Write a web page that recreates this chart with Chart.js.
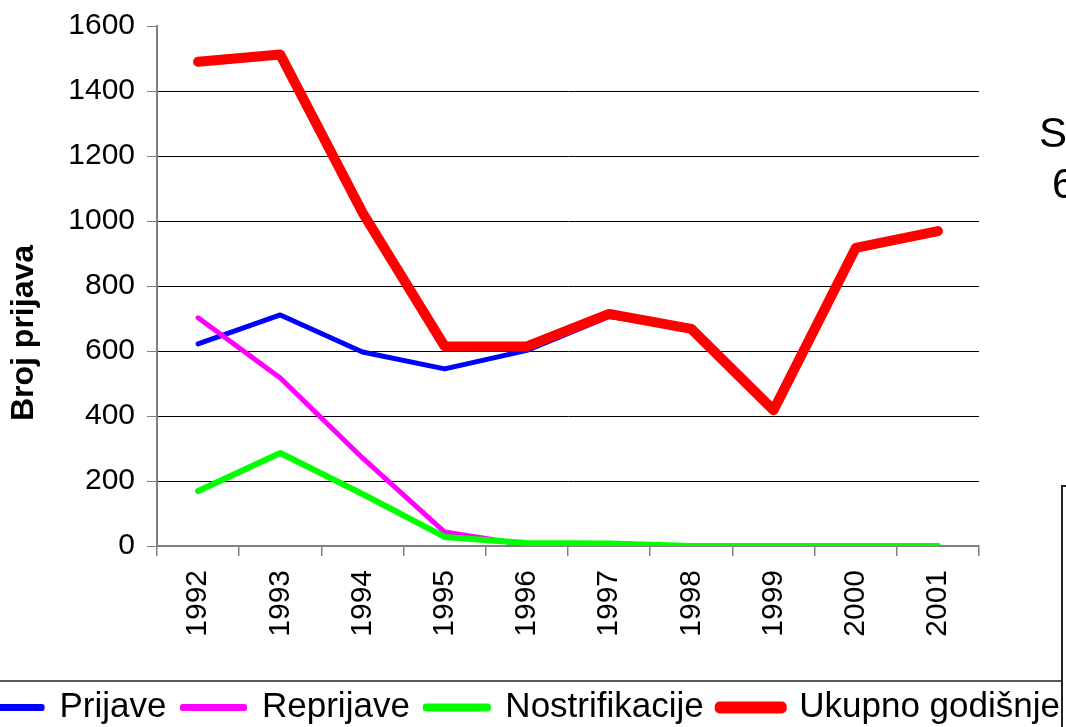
<!DOCTYPE html>
<html>
<head>
<meta charset="utf-8">
<script src="https://cdn.jsdelivr.net/npm/chart.js@4/dist/chart.umd.min.js"></script>
<style>
  html, body { margin: 0; padding: 0; background: #fff; overflow: hidden; width: 1066px; height: 727px; }
  #wrap { position: absolute; left: -100px; top: 0; width: 1240px; height: 735px; }
</style>
</head>
<body>
<div id="wrap"><canvas id="c" width="1240" height="735"></canvas></div>
<script>
const years = ['1992', '1993', '1994', '1995', '1996', '1997', '1998', '1999', '2000', '2001'];
const prijave = [622, 711, 597, 545, 602, 706, 668, 418, 917, 969];
const reprijave = [702, 517, 271, 43, 3, 0, 0, 0, 0, 0];
const nostrifikacije = [169, 286, 160, 28, 9, 8, 0, 0, 0, 0];
const ukupno = [1490, 1512, 1026, 614, 614, 714, 668, 418, 917, 969];
const seriesNames = ['Prijave', 'Reprijave', 'Nostrifikacije', 'Ukupno godišnje'];
const yTitle = 'Broj prijava';
const sideTexts = ['S', '6'];

const FONT = '"Liberation Sans", Arial, sans-serif';
const OFF = 100; // canvas x offset relative to the page

const overlay = {
  id: 'overlay',
  afterDraw(chart) {
    const ctx = chart.ctx;
    ctx.save();
    ctx.fillStyle = '#000';
    ctx.font = 'bold 32px ' + FONT;
    ctx.textAlign = 'center';
    ctx.textBaseline = 'middle';
    ctx.translate(OFF + 24, 333);
    ctx.rotate(-Math.PI / 2);
    ctx.fillText(yTitle, 0, 0);
    ctx.restore();

    ctx.save();
    ctx.strokeStyle = '#222';
    ctx.lineWidth = 1.5;
    ctx.beginPath();
    ctx.moveTo(OFF + 0, 681);
    ctx.lineTo(OFF + 1062, 681);
    ctx.stroke();
    ctx.fillStyle = '#fff';
    ctx.fillRect(OFF + 1062, 486, 200, 300);
    ctx.strokeStyle = '#222';
    ctx.lineWidth = 2;
    ctx.beginPath();
    ctx.moveTo(OFF + 1062, 760);
    ctx.lineTo(OFF + 1062, 486);
    ctx.lineTo(OFF + 1080, 486);
    ctx.stroke();
    ctx.fillStyle = '#000';
    ctx.font = '42px ' + FONT;
    ctx.textAlign = 'left';
    ctx.textBaseline = 'alphabetic';
    ctx.fillText(sideTexts[0], OFF + 1039, 147);
    ctx.fillText(sideTexts[1], OFF + 1052, 198);
    ctx.restore();
  }
};

const mk = (label, data, color, width, order) => ({
  label, data,
  borderColor: color, backgroundColor: color,
  borderWidth: width, pointRadius: 0, pointHoverRadius: 0,
  tension: 0, fill: false,
  borderJoinStyle: 'round', borderCapStyle: 'round',
  order
});

new Chart(document.getElementById('c'), {
  type: 'line',
  data: {
    labels: years,
    datasets: [
      mk(seriesNames[0], prijave, '#0000ff', 5, 4),
      mk(seriesNames[1], reprijave, '#ff00ff', 5, 3),
      mk(seriesNames[2], nostrifikacije, '#00ff00', 6, 2),
      mk(seriesNames[3], ukupno, '#ff0000', 10, 1)
    ]
  },
  options: {
    responsive: false,
    animation: false,
    devicePixelRatio: 1,
    layout: { padding: { left: 0, right: 0, top: 26, bottom: 0 } },
    plugins: {
      tooltip: { enabled: false },
      legend: {
        position: 'bottom',
        labels: {
          sort: (a, b) => a.datasetIndex - b.datasetIndex,
          font: { size: 35, family: FONT },
          color: '#000',
          boxWidth: 62,
          boxHeight: 2,
          padding: 16
        }
      }
    },
    scales: {
      x: {
        offset: true,
        grid: { offset: true, drawOnChartArea: false, drawTicks: true, tickLength: 10, tickColor: '#808080', lineWidth: 1.5 },
        border: { color: '#808080', width: 2 },
        ticks: { minRotation: 90, maxRotation: 90, padding: 14, color: '#000', font: { size: 30, family: FONT } },
        afterFit: s => { s.height = 128; s.paddingLeft = 0; s.paddingRight = 0; }
      },
      y: {
        min: 0, max: 1600,
        ticks: { stepSize: 200, padding: 12, color: '#000', font: { size: 30, family: FONT }, callback: v => String(v) },
        grid: {
          color: c => (c.tick && c.tick.value === 1600) ? 'rgba(0,0,0,0)' : '#000',
          lineWidth: 1,
          tickLength: 10,
          tickColor: '#808080'
        },
        border: { color: '#808080', width: 2 },
        afterFit: s => { s.width = 257; s.paddingTop = 0; s.paddingBottom = 0; }
      },
      y2: {
        position: 'right',
        display: true,
        ticks: { display: false },
        grid: { drawOnChartArea: false, drawTicks: false },
        border: { display: false },
        afterFit: s => { s.width = 161; s.paddingTop = 0; s.paddingBottom = 0; }
      }
    }
  },
  plugins: [overlay]
});
</script>
</body>
</html>
